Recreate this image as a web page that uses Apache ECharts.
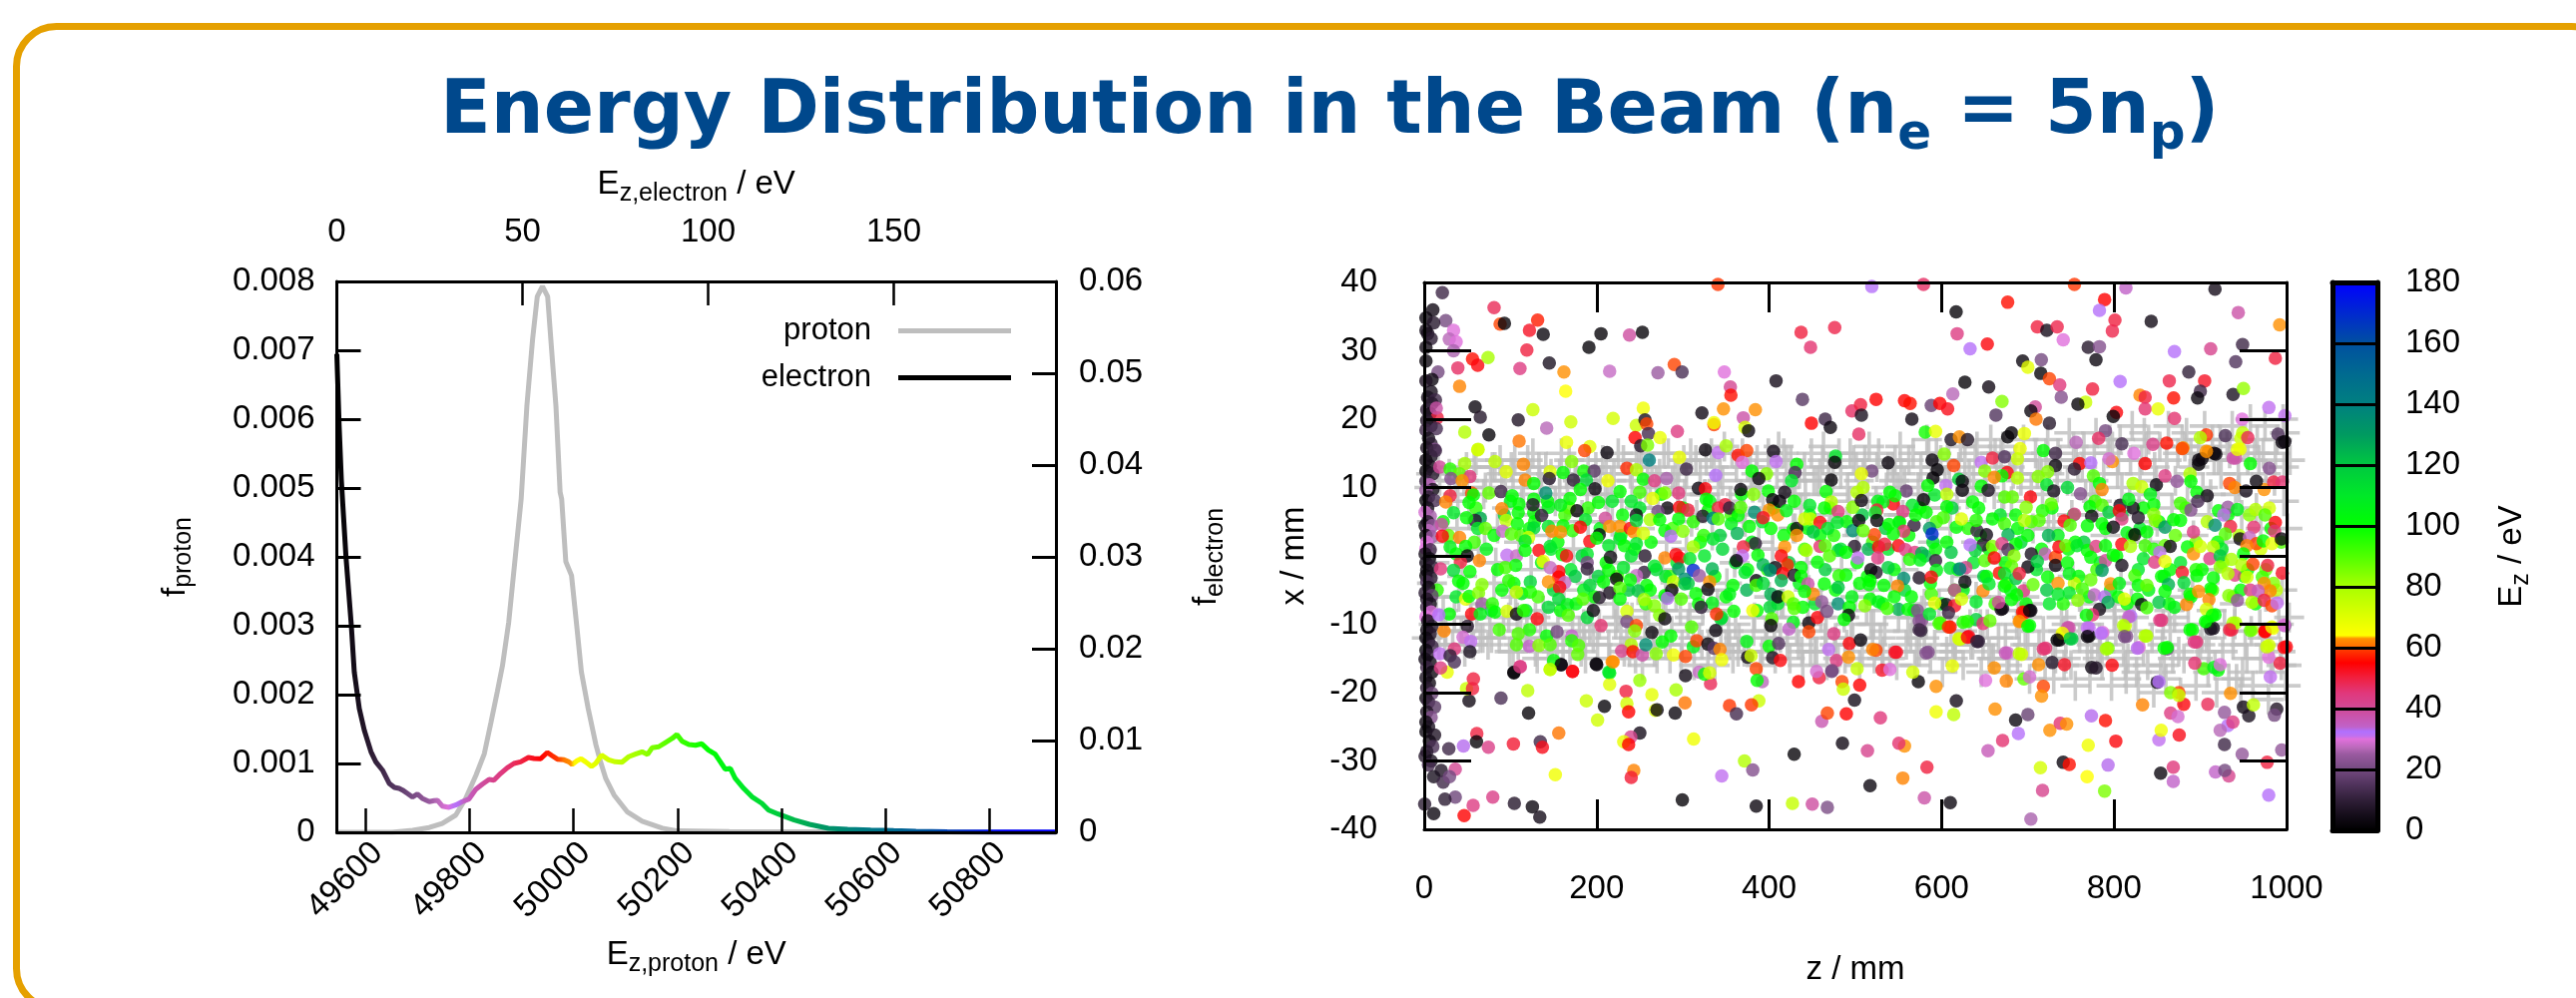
<!DOCTYPE html>
<html><head><meta charset="utf-8">
<style>html,body{margin:0;padding:0;background:#fff}#c{width:2581px;height:1000px}</style>
<script src="https://cdn.jsdelivr.net/npm/echarts@6/dist/echarts.min.js"></script>
</head><body><div id="c"></div>
<script>
const protonTicks=[49600,49800,50000,50200,50400,50600,50800];
const electronTicks=[0,50,100,150];
const protonCurve=[[49544,0],[49650,0],[49690,.00003],[49722,.00007],[49747,.00013],[49773,.00025],[49792,.00049],[49812,.00083],[49828,.00114],[49841,.0016],[49853,.00204],[49863,.00242],[49875,.00305],[49888,.00402],[49899,.00484],[49910,.00619],[49921,.00716],[49930,.00778],[49940,.00793],[49950,.00778],[49960,.00677],[49966,.00619],[49974,.00494],[49977,.00484],[49985,.00393],[49996,.00373],[50006,.003],[50015,.00233],[50028,.0018],[50043,.00127],[50052,.00102],[50062,.00078],[50078,.00054],[50103,.0003],[50132,.00016],[50171,.00006],[50200,.00002],[50300,.00001],[50929,0]];
const electronCurve=[[0,.0521],[.6,.0445],[1.2,.0385],[1.64,.0355],[2.47,.02997],[3.9,.02254],[4.7,.01745],[6.05,.01348],[7.4,.01112],[9.2,.00877],[10.5,.00768],[12.3,.00677],[14.1,.00533],[15.5,.00489],[16.8,.00478],[17.7,.0046],[19,.00424],[20.4,.00384],[21.7,.00416],[23,.0037],[24.9,.00334],[26.2,.00345],[27.1,.00348],[28.4,.00286],[30.2,.00272],[32,.00297],[33.8,.00334],[35.6,.00362],[37.4,.00467],[39.2,.00525],[41,.00576],[42.3,.00568],[44.1,.00641],[45.9,.00703],[47.7,.0075],[49.5,.00768],[51.6,.00815],[53.1,.00804],[54.9,.00801],[56.7,.0087],[58,.00834],[59.4,.00797],[61.2,.0079],[62.5,.00768],[63.4,.00739],[64.7,.00779],[65.8,.00801],[67,.00768],[68.6,.00717],[69.7,.0075],[71.3,.0084],[73.2,.0079],[75,.00768],[76.8,.00764],[78.6,.00823],[80.4,.00851],[82.2,.00877],[83.7,.00848],[84.9,.00921],[86.7,.00932],[88.5,.00978],[90.3,.01022],[91.6,.01065],[93,.00992],[94.8,.00957],[96.6,.00949],[98.3,.00964],[100.1,.00895],[101.9,.00851],[103.3,.00768],[104.6,.00688],[106,.00696],[107.3,.00587],[109.6,.00478],[111.8,.00388],[114.5,.00315],[116.3,.00242],[118.9,.00199],[123.2,.00134],[127.3,.00087],[132.4,.00043],[137.6,.00033],[143.8,.00025],[150,.00018],[156,.00012],[164.4,.00006],[176.7,.00003],[193.7,.00002]];
const colorbarStops=[[0,'#000000'],[5,'#150d1a'],[10,'#301f38'],[15,'#50335c'],[20,'#744a80'],[25,'#9a5aa0'],[27,'#b868b8'],[30,'#e070dc'],[31,'#c070f0'],[32.5,'#b070ff'],[34,'#c062c8'],[40,'#d04a98'],[45,'#e0387c'],[50,'#f02040'],[55,'#ff0000'],[60,'#ff4400'],[60.5,'#ff7000'],[63,'#ff9000'],[64,'#ffff00'],[70,'#e0ff00'],[80,'#a8ff00'],[90,'#50ff00'],[100,'#00ff00'],[110,'#00e828'],[120,'#00c840'],[130,'#009a60'],[140,'#008080'],[150,'#006a90'],[160,'#0050a0'],[170,'#0028d0'],[180,'#0000ff']];
const protonHits=[
3,-12,9,5,14,-6,18,11,24,-13,27,2,31,8,35,-9,41,12,44,-3,47,-14,52,6,55,-11,58,13,63,1,66,-7,69,9,74,-13,77,11,81,-4,85,4,88,14,92,-10,96,7,99,-14,
103,12,106,-6,110,2,113,10,117,-12,120,14,124,-2,127,6,131,-15,134,11,138,-8,141,13,145,3,148,-13,152,8,155,-10,159,15,162,-5,166,10,169,-14,
173,1,176,12,180,-11,183,6,187,-15,190,14,194,-7,197,9,201,-13,204,11,208,-3,211,13,215,-15,218,5,222,-10,225,15,229,8,232,-14,236,-1,239,12,
243,-12,246,14,250,4,253,-16,257,10,260,-8,264,13,267,-14,271,7,274,-11,278,15,281,2,285,-15,288,11,292,-6,295,13,299,-13,302,9,306,-10,309,15,
313,-16,316,6,320,12,323,-8,327,14,330,-13,334,3,337,-16,341,10,344,-11,348,16,351,-4,355,8,358,-15,362,13,365,-12,369,15,372,5,376,-14,379,11,
383,-9,386,14,390,-16,393,7,397,-12,400,13,404,1,407,-15,411,16,414,-7,418,10,421,-13,425,14,428,4,432,-11,435,12,439,-16,442,9,446,-5,449,15,
453,-14,456,11,460,-9,463,16,467,-16,470,6,474,13,477,-12,481,15,484,-2,488,-15,491,10,495,-10,498,14,502,3,505,-16,509,12,513,-8,516,16,520,-13,
524,8,527,15,531,-15,534,-11,538,13,541,-4,545,11,548,-16,552,16,555,6,559,-13,562,14,566,-9,569,-16,573,10,576,13,580,-12,583,17,587,-15,590,2,
594,15,597,-7,601,-17,604,11,608,14,611,-11,615,-14,618,8,622,16,625,-16,629,-3,632,12,636,-13,639,15,643,5,646,-17,650,10,653,-10,657,17,660,-15,
664,13,667,-6,671,16,674,-12,678,-17,681,8,685,14,688,-15,692,11,695,17,699,-9,702,-18,706,4,709,15,713,-13,716,12,720,-16,723,17,727,-2,730,-18,
734,10,737,14,741,-11,744,-15,748,18,751,6,755,-19,758,13,762,-7,765,16,769,-14,772,-18,776,11,779,18,783,-12,786,-16,790,3,793,15,797,-19,800,-9,
804,12,807,17,811,-14,814,-18,818,8,821,19,825,-11,828,-19,832,14,835,18,839,-16,842,4,846,-20,849,11,853,16,856,-13,860,-18,863,19,867,7,870,-9,
874,15,877,-20,881,-15,884,18,888,12,891,-5,895,-19,898,16,902,-12,905,19,909,-17,912,9,916,14,919,-20,923,17,926,-14,930,2,933,-18,937,19,940,-10,
944,12,947,-20,951,16,954,-15,958,20,961,-19,965,7,968,14,972,-12,975,19,979,-21,982,-17,986,11,989,17,993,-14,996,20,999,-19,1001,4,1003,-9,1004,14,
12,-1,38,4,61,-9,83,-1,108,-9,135,-12,164,5,193,-4,221,2,248,-5,276,-2,304,1,332,-5,360,-1,388,2,416,-7,444,-1,472,5,500,-6,528,1,556,-2,584,7,612,-5,640,2,668,-1,696,-6,724,4,752,-3,780,8,808,-4,836,2,864,-8,892,3,920,-2,948,6,976,-6,
20,-10,50,10,78,-12,101,13,129,-9,157,12,185,-10,213,8,241,-9,269,11,297,-8,325,9,353,-11,381,10,409,-9,437,7,465,-12,493,8,521,-10,549,10,577,-8,605,7,633,-10,661,9,689,-8,717,9,745,-10,773,9,801,-8,829,9,857,-10,885,8,913,-8,941,9,969,-10,997,8,
6,10,11,-10,16,13,22,-8,29,12,33,-13,39,9,43,-11,49,13,54,-9,60,14,65,-12,71,10,76,-10,82,13,87,-12,94,11,98,-9,105,14,109,-13,115,9,119,-11,126,15,129,-14,136,10,140,-10,147,12,150,-12,157,9,161,-13,168,14,172,-9,178,11,182,-14,189,10,192,-11,199,13,203,-10,210,9,214,-13,220,12,224,-9,231,14,235,-12,241,11,245,-15,252,13,256,-10,262,9,266,-13,273,12,277,-8,283,15,287,-11,294,10,298,-15,304,12,308,-9,315,14,319,-12,326,9,329,-15,336,13,340,-8,346,11,350,-13,357,15,361,-10,367,9,371,-14,378,13,382,-11,389,10,392,-14,399,15,403,-9,409,12,413,-12,420,14,424,-15,430,9,434,-13,441,13,445,-10,452,11,455,-14,462,14,466,-11,473,9,476,-13,483,12,487,-9,494,15,497,-12,504,11,508,-14,514,9,518,-10,525,13,529,-12,536,10,540,-15,546,14,550,-9,557,11,561,-11,567,15,571,-14,578,9,582,-10,588,12,592,-13,599,14,603,-9,609,11,613,-15,620,13,624,-11,630,9,634,-13,641,16,645,-10,651,12,655,-14,662,15,666,-12,672,9,676,-16,683,12,687,-10,693,14,697,-13,704,10,708,-15,714,14,718,-11,725,12,729,-14,735,15,739,-9,746,11,750,-16,756,14,760,-12,767,9,771,-10,777,15,781,-15,788,12,792,-13,798,16,802,-11,809,10,813,-16,819,14,823,-9,830,12,834,-14,840,17,844,-12,851,9,854,-17,861,14,865,-11,871,11,875,-14,882,16,886,-10,893,13,897,-15,903,10,907,-12,914,17,917,-16,924,12,928,-10,934,15,938,-13,945,10,949,-17,955,14,959,-11,966,17,970,-15,976,12,980,-13,987,15,991,-10,997,13,1000,-16,
9,-4,40,-6,70,4,100,-5,132,7,160,-7,190,5,220,-7,250,7,280,-6,310,5,340,-7,370,6,400,-6,430,4,460,-7,490,5,520,-5,550,6,580,-7,610,4,640,-6,670,6,700,-7,730,5,760,-6,790,6,820,-7,850,5,880,-6,910,6,940,-7,970,4,995,-5,
8,12,25,-11,46,11,68,-12,90,12,112,-11,133,13,154,-14,175,12,196,-12,217,11,238,-14,259,12,280,-13,301,14,322,-13,343,12,364,-14,385,12,406,-13,427,11,448,-14,469,13,490,-13,511,14,532,-14,553,12,574,-14,595,13,616,-13,637,11,658,-15,679,13,700,-13,721,15,742,-16,763,13,784,-14,805,14,826,-17,847,13,868,-15,889,15,910,-14,931,16,952,-13,973,15,994,-16,
17,-13,36,11,57,-13,79,13,103,-14,122,12,144,-15,165,12,186,-13,207,14,228,-11,249,15,270,-15,291,12,312,-12,333,15,354,-13,375,13,396,-11,417,15,438,-14,459,12,480,-15,501,13,522,-15,543,13,564,-12,585,15,606,-14,627,14,648,-13,669,15,690,-11,711,12,732,-15,753,16,774,-13,795,17,816,-15,837,16,858,-16,879,17,900,-13,921,14,942,-18,963,15,984,-15,998,18];
const electronCore=[
22,5,100,37,-6,110,60,7,95,72,1,105,85,-2,100,93,6,115,104,-4,100,112,3,90,118,-8,110,128,5,100,136,-1,105,143,8,100,150,-5,115,155,2,100,163,6,92,170,-2,110,176,-7,100,183,0,120,190,7,95,197,-6,100,204,4,105,211,-1,100,218,8,110,224,-3,92,230,6,100,237,-5,120,244,1,100,250,7,110,257,-7,95,263,2,100,269,-2,115,275,9,100,281,-6,105,288,4,92,293,-1,110,300,7,100,306,-4,120,312,5,95,318,-7,100,325,0,110,331,8,105,337,-3,100,343,3,118,350,-6,100,356,6,92,361,-1,110,368,9,100,374,-5,125,380,2,105,386,-8,100,392,5,110,398,-2,95,405,7,100,411,-6,115,417,3,100,423,-1,120,429,8,100,435,-4,105,441,1,92,447,6,100,453,-7,110,459,3,100,465,-2,118,471,7,95,477,-5,100,483,1,112,490,5,100,496,-6,105,502,-1,100,508,6,120,514,-3,100,520,2,92,526,8,105,532,-7,100,538,1,110,545,-2,100,551,5,96,557,-5,115,562,3,100,568,-8,105,575,7,100,581,0,120,587,-4,100,594,5,92,600,-7,110,606,2,100,612,7,118,619,-2,100,625,-5,105,631,4,96,637,-1,110,643,7,100,649,-3,120,655,1,100,662,-7,92,668,6,110,674,-1,100,680,-5,105,686,6,100,692,2,115,698,-7,100,704,5,90,710,-2,110,716,1,100,722,-5,120,728,7,100,735,3,105,741,-7,96,747,1,100,753,6,110,759,-3,100,765,2,118,771,-6,100,778,8,92,784,-1,110,790,4,100,796,-5,105,803,0,100,809,6,120,815,-7,100,821,3,90,828,-2,110,834,7,100,840,-5,105,846,1,96,852,5,100,858,-3,115,864,-7,100,871,3,88,877,-1,110,883,7,92,889,-6,100,895,2,84,902,-2,100,908,5,78,914,-5,92,920,2,100,926,-1,84,932,6,100,938,-6,90,945,3,78,951,-3,100,957,6,84,964,-7,100,970,1,72,976,-2,88,982,4,100,988,-5,76,994,2,90,
15,-5,95,28,3,88,45,-4,100,58,2,92,78,-8,115,90,-5,100,100,8,105,122,4,100,132,-6,92,147,1,110,158,-8,100,168,7,90,185,-5,105,202,-3,118,228,3,100,262,-5,100,285,-3,92,320,2,100,345,-9,110,375,-2,100,410,-7,110,445,4,100,475,3,96,505,-4,100,535,4,118,565,-6,100,590,2,110,615,-5,100,645,3,100,675,-4,92,700,3,100,725,-7,110,755,2,100,780,-2,92,805,-6,100,830,4,110,865,-2,100,895,-2,96,925,1,110,955,-2,100,985,-4,84];
const electronDots=[
21,38.5,12,10,36,4,25,34.4,20,2,34.8,3,11,34.1,8,4,32.5,7,2,33,5,8,31.8,9,2,30.5,4,2,28.5,3,16,26.9,20,9,25.8,3,2,25.6,7,8,24,5,4,23.2,6,13,22.8,12,9,22.3,8,3,21.4,10,7,20.8,4,15,20.2,50,14,21.6,38,3,19.8,8,8,19,6,2,18.4,12,14,18.6,14,5,17.2,5,8,16.4,9,12,15.6,22,3,15.8,7,8,14.6,6,13,15.4,12,2,14,4,7,13.1,5,2,12.4,3,10,12,8,2,10.9,12,6,10.4,28,10,9.7,4,2,9.6,24,5,8.6,9,2,8.1,3,12,8.1,14,4,7,6,1,6.4,29,7,5.8,26,4,5,8,1,4.4,5,9,4.4,24,5,3.7,28,2,3,2,9,2.8,25,3,2,30,2,1.1,30,7,0.9,12,1,0.3,5,6,-0.4,3,2,-1,6,9,-1.6,10,3,-2.1,4,2,-2.9,3,8,-3.2,8,3,-3.8,14,5,-4.6,4,1,-5.4,9,9,-5.8,18,3,-6.3,7,7,-7,5,3,-7.5,12,8,-8.2,30,2,-8.9,30,4,-9.5,5,9,-10.3,8,3,-10.8,4,7,-11.4,8,2,-12,3,5,-12.6,6,9,-13.2,12,2,-13.8,3,4,-14.5,10,1,-15.1,5,7,-15.6,4,3,-16.3,12,9,-17,3,2,-17.8,6,6,-18.6,4,3,-19.3,9,9,-20.1,18,2,-20.8,4,5,-21.4,11,12,-22.1,16,3,-22.8,7,8,-23.6,22,2,-24.3,4,5,-25,6,2,-25.7,3,12,-26.2,7,6,-27.1,4,10,-27.9,14,3,-28.6,9,1,-29.3,8,8,-30,6,5,-30.6,13,19.7,-31.4,7,11,-32.3,6,22,-33.1,12,
81,36.3,48,88,33.9,60,93,34,2,131.5,34.5,57,122,33,52,138,32.4,3,34,33,30,29,31.7,27,37,31.3,30,34,30,26,56,28.8,56,62,27.9,54,74,29,80,39,27.5,47,119,30.1,50,111,27.4,44,145,28.2,6,162,26.9,63,41,24.8,62,164,24.1,64,191,30.5,2,205,32.5,2,238,32.3,39,253,32.7,2,215,27,28,271,26.8,25,290,28,60,299,26.9,14,340.6,39.7,59,348,26.9,30,355,24.7,41,355.6,23.5,56,408,25.6,5,437,32.7,50,448,30.5,46,476,33.4,49,519,39.4,32,438.6,22.9,16,496,21.2,47,506,22.1,50,507,20.6,6,524,22.9,55,504,17.8,47,449,19.4,55,465,20,12,471,18.8,3,384,21.4,63,347,21.5,63,370,20.2,38,336,19.2,60,336,19.5,67,372,18.8,72,376,18.3,3,322,20.9,4,293.5,18.2,44,254,21.6,67,246,19.1,74,256,19.9,6,258,19.3,60,260,17.9,13,244.5,17.3,55,273.5,17.3,68,251,16.1,8,259,16.2,85,219,20.1,72,170,19.6,73,126,21.4,74,142,18.7,27,109,19.9,7,59,21.8,3,65,20.3,8,75,17.7,2,47,18.1,78,110,16.8,61,62.5,15.6,75,165,16.6,68,192,16,70,
579,39.7,47,754,39.7,59,813.7,39.2,34,917,39,5,676.6,37.1,56,616.8,35.7,2,789,37.5,55,783,35.9,32,801,34.5,50,798,32.9,49,843,34.3,4,944,35.6,38,992,33.8,63,618,32.5,44,633,30.3,32,653,31,54,711,33.5,50,722,33,5,734,33.5,49,741,31.6,30,770,30.5,8,783,30.6,22,779,28.7,3,694,28.5,3,700,27.6,69,715.6,28.7,20,715,26.7,2,870,29.9,32,912,30.3,42,949,30.9,12,941,28.4,15,987,28.9,50,627,25.4,2,654.6,24.7,4,725,25.9,60,737,25,45,775,24.4,50,807,25.5,32,864,25.6,49,886.6,26.9,10,905,25.6,52,900,24.1,12,896.8,23.1,3,830,23.5,62,836,23.2,50,869,23.1,56,938,23.6,6,950,24.5,82,979.5,21.7,31,998,20.5,31,948.5,20,30,613,23.7,27,557,22.7,55,563.5,22.3,56,588,22,18,598,22.3,55,607,21.5,53,565.5,20,4,670,22.6,84,663,20.6,15,708.6,21.8,40,703.5,21.2,3,709.5,20,61,725,19.4,8,738.7,23.2,22,767,22.5,74,758,22.2,2,802.7,21,54,799,20.4,2,836,21.5,46,851,21.5,68,870,20.1,46,907,17.7,59,900,17.3,78,929,17.6,14,949,18,76,947,17.2,74,955,17.3,48,990,17.8,15,998,16.7,3,946,15.6,67,941,14.3,38,909,15.2,63,918,14.9,3,902,14.2,3,898,13.4,2,861,16.5,56,880,15.8,63,845,16.3,43,809,16.4,14,790,18.3,20,782,17.2,47,756,16.6,27,611,17,6,620.6,17.4,63,630,17,7,581,18.1,98,593,18.2,68,676.6,17.4,2,681,18,2,696,17.9,68,
111.5,-16.2,42,104,-17.1,2,158.5,-15.9,3,146,-16.6,74,172,-16.9,52,199.4,-15.8,2,218,-15.5,63,215,-17.1,105,215,-18.8,70,250,-18.2,82,234,-19.8,50,264,-20.3,69,292,-19.6,80,303,-17.5,4,332,-18.7,48,319,-17,28,325,-17.3,100,331,-17.1,72,385,-16.5,60,392,-18.4,27,386,-18.2,100,388,-21.2,74,379.5,-21.8,59,354,-21.9,59,362,-23.1,13,302.4,-21.5,61,291,-23,3,268,-22.6,70,270,-22.5,3,235,-21.6,72,237,-22.8,55,209,-22,2,188,-21.2,74,201,-24,73,121,-23,2,120,-19.7,76,89,-20.8,14,52,-21.2,4,49,-19.4,74,56,-19.4,50,57,-18,50,26.6,-17,68,19,-16.4,44,61,-26,50,60.6,-27.2,2,45.5,-27.8,33,28.5,-28.2,12,74.4,-28,43,103.4,-27.5,51,134.6,-27.2,12,137,-28,53,156,-25.9,61,152,-32,67,36,-31.2,41,29.3,-32.3,20,36,-35.3,19,24,-35.6,9,0.5,-36.3,9,11,-37.7,3,56.7,-36.5,44,79.5,-35.3,43,46.3,-38,55,104.5,-36.2,8,125.4,-36.7,3,134,-38.2,5,299.3,-35.7,2,385,-36.6,3,427,-36.2,75,450,-36.3,39,467.5,-36.8,21,517,-33.6,3,345,-32.2,31,371.4,-30,78,381,-31.3,22,429,-29,2,485,-27.4,4,514,-28.5,42,461,-24.2,37,467.5,-23,60,489.5,-23.1,55,499,-21.1,5,484.5,-18.4,60,486,-19.5,74,505,-18.9,55,434,-18.4,55,458,-17.8,50,455,-16.9,29,472.5,-16.9,20,502,-16.5,75,312.4,-26.8,67,250,-25.9,5,239.5,-26.5,42,231.4,-27.2,68,237,-27.6,55,243,-31.4,62,240,-32.4,51,
610,-36.1,3,703.5,-38.5,26,580,-35.4,38,555,-32.5,62,583,-30.9,50,557,-27.8,63,550.4,-27.4,46,529,-23.7,45,593.6,-22.8,67,614,-23.2,76,617,-21.2,5,593.6,-19.1,63,573,-18.4,2,566.6,-17,72,531,-16.7,52,540,-16.6,30,612.5,-16.1,68,661,-16.4,63,651,-18.2,30,675,-18.3,62,662,-22.4,63,685.8,-24,3,700,-23.2,18,689,-26,32,670.7,-27,46,653.8,-28.5,36,725.5,-25.5,63,737.5,-24.5,46,745,-24.6,63,718,-19.1,60,715.9,-20.5,63,695.5,-18,88,702,-17.7,29,712.5,-15.9,63,728.2,-15.6,8,742.5,-15.9,52,773.7,-23.4,33,790,-24.1,56,802,-27.1,54,770,-27.7,67,741,-30.2,3,748,-30.5,56,714.6,-31,72,793,-30.6,33,768.7,-32.3,64,717,-34.3,42,789,-34.4,85,833,-21.8,62,852,-26.9,31,854.6,-25.5,67,875.5,-26.2,53,854,-31.8,3,868.6,-30.9,45,868.6,-33,34,865.6,-23,44,874,-23.5,29,880.8,-21.7,54,875,-20,60,865.6,-20,84,875,-20.4,74,850,-18.5,6,852,-18.4,32,908.7,-21.7,48,935,-20.1,63,928,-22.9,24,950,-22.1,4,956.2,-23.4,6,961.6,-21.8,76,988.6,-22.4,7,985.9,-23.3,20,932,-24.8,32,937.7,-24.3,44,923,-25.5,27,928,-27.6,12,948.5,-29,24,994.4,-28.4,24,977.5,-30.2,50,917.6,-31.6,34,933,-32.2,42,928.4,-31.4,20,979.3,-35,32,981.2,-17.7,31,992.5,-15.7,50,979.3,-14.8,30,979.7,-13.1,72,999.7,-13.3,54,904,-16.5,92,920.7,-16.7,100,915.7,-16.3,105,923,-15.9,30,893.6,-15.7,46,861.6,-13.6,20,861.6,-13.4,100,895.6,-12.6,46,828.9,-13.4,30,793,-13.5,85,837.8,-11.7,78,814.6,-11.8,22,813,-10.2,74,819.2,-8.8,32,855,-9.4,46,786.9,-11.2,30,771,-10.5,31,771,-11.7,2,736.7,-12.3,2,751,-12.1,120,742,-11.3,68,747.8,-10.5,38,720.5,-13.5,46,692.7,-14.4,72,676.5,-14.2,29,797.7,-16,54,774,-16.3,4,779,-16.4,8,642.6,-12.5,10,631.4,-11.8,52,621.4,-12.2,74,584.4,-14.1,22,547.7,-14.1,52,524,-13.8,60,576,-10.9,10,577,-9.4,24,598.6,-9.8,90,609.8,-10.4,56,625,-9.7,95,695.8,-8.3,54,703.5,-8,3,691,-9.5,63,702,-10.2,100,670.7,-7.7,6,890.8,-10.8,100,915,-10.6,5,936.4,-10.8,50,908,-9.7,100,917,-8.6,100,941,-9.8,78,960,-10.8,78,975,-11,55,984,-10.6,67,998,-10.2,24,
62,15.5,72,186,15.4,60,212,15.1,3,261,14,140,296,14.4,68,326,15.5,3,341,15.1,31,350,16.1,80,364,14.7,56,374,15.4,60,369,13.7,30,405,15.3,5,408,13.8,31,432,13.4,100,430,12.2,14,426,11,110,477,14.6,110,476,13.7,2,472,11.1,2,18,13,40,30,12.7,95,47,13.5,80,82,13.8,76,115,13.4,62,95,12.3,70,41,12,88,53,11.6,45,31,11.3,22,44,11,63,146,12.3,70,145,11.3,8,161,12.2,100,171,13.8,84,185,12.4,98,197,12.4,16,188,11.1,115,173,11.1,9,117,11.1,62,127,10.6,100,235,12.8,58,246,12.6,78,304,12.7,12,338,11.8,32,254,11.2,100,267,11,44,281,11.3,26,213,11,67,380,12.4,100,397,12,84,388,11.3,3,198,9.8,3,181,9.7,100,227,9.4,100,250,9.3,92,279,9.2,84,295,9.2,45,318,9.9,3,326,9.8,54,367,9.7,3,382,9,84,399,9.5,100,418,9.3,5,75,9.2,88,89,9.4,12,55,9.2,60,30,8.8,50,25,7.9,62,141,9.2,135,102,8.8,100,127,8.3,100,169,8.4,100,265,8.4,68,240,8,110,202,7.8,100,57,8.9,100,52,7.8,100,404,8.2,2,412,8,3,466,9.4,100,472,7.9,78,447,7.4,110,464,7,100,480,6.5,45,497,7.1,84,
34,6.3,110,90,6.9,62,110,7.6,100,109,6.3,100,127,6.3,100,144,7.1,105,126,7.5,8,158,7.4,105,136,5.9,10,177,6.6,2,282,7,3,271,6.5,20,296,7.1,54,306,6.7,50,246,6,4,327,8.3,100,329,6.6,100,341,7,50,349,7.5,50,354,7,10,364,5.9,100,367,7.1,90,383,6.4,135,400,6.7,63,410,6,63,393,5.6,52,420,6.6,105,65,5.5,125,59,5.2,8,49,5.6,100,95,5.2,76,108,4.7,100,127,4.1,115,144,4.3,110,161,4.4,100,172,3.7,95,187,5.3,110,210,5.5,40,215,4.3,63,227,4.3,63,239,4,54,243,3.5,63,254,3.3,72,246,5.2,115,262,5.3,80,273,5.3,100,295,5.4,100,323,5.8,8,335,5.5,140,341,5.4,90,356,4.7,105,363,3.3,125,377,4.3,100,402,4,100,428,3.9,100,432,4,4,441,5.4,72,448,5.4,74,459,4.9,54,451,3.5,120,468,4,110,479,4.9,110,497,3.7,135,
20,4.6,38,21,2.9,54,41,2.7,62,62,4,110,71,4,88,81,3,100,91,3.6,28,101,3.2,90,121,2.7,72,117,2.2,110,148,3.6,62,158,3.5,63,192,2.1,54,181,4.2,55,203,3.1,3,200,2.6,100,214,1.5,110,227,2.5,110,232,1.5,100,246,1.8,110,279,3.7,100,286,2.9,33,300,3.6,84,312,1.3,80,324,3,95,335,2.5,110,346,1,115,384,1.8,10,370,1.3,50,418,1.3,63,432,3,63,443,.8,80,459,1.4,46,456,-.9,100,480,.8,115,465,1.5,90,499,1.4,8,48,1.4,100,30,1.3,105,37,.3,100,50,0,3,42,-.9,50,64,-.7,62,96,.1,31,107,0,28,133,.8,54,146,1.4,110,117,.8,100,138,-.8,67,160,.2,100,165,0,54,189,.3,110,216,-.2,4,256,0,8,240,0,110,279,-.3,62,292,.2,54,296,-.3,54,308,-.4,110,369,0,31,362,-.7,3,387,.1,100,393,-1.3,125,414,0,54,421,-1.3,58,407,-1.7,3,437,-1.7,100,470,0,90,489,.5,100,
34,-2.1,115,19,-1.9,45,53,-2.3,100,106,-1.4,100,94,-1.7,92,156,-2.3,54,146,-1.7,28,189,-1,20,189,-1.9,10,175,-3,120,214,-2.1,100,231,-1.7,110,255,-2.4,10,246,-2.9,28,267,-1.5,110,295,-1.9,130,312,-2.1,170,302,-3.4,135,319,-2.9,25,334,-1.9,125,372,-2.4,110,401,-2.1,135,416,-2.6,54,429,-2.8,6,437,-3,100,414,-3.6,125,489,-2.8,100,481,-2.9,95,40,-3.7,100,156,-3.1,55,144,-3.8,63,163,-3.9,28,157,-4.6,54,123,-3.8,115,98,-3.6,95,67,-4.2,84,239,-3.5,100,223,-3.4,2,192,-4.3,115,208,-3.8,100,258,-4.3,100,280,-3,110,289,-3.8,74,302,-4.1,120,331,-3.8,63,358,-4.3,100,385,-3.6,2,385,-4.3,92,393,-4,115,445,-4.1,38,464,-4.1,100,480,-4.6,120,
48,-6.3,68,52,-5.9,100,63,-5.4,84,67,-7,25,79,-7,95,113,-5.5,105,123,-5.3,96,107,-5.3,76,156,-6.3,115,166,-7.1,105,184,-6.3,90,215,-5.4,6,203,-6.1,8,227,-4.7,90,227,-6.3,100,248,-5.1,120,279,-5.8,100,255,-6.4,80,267,-7.3,84,287,-5,3,282,-6.2,33,298,-6.3,90,315,-5.5,100,329,-4.9,3,334,-6.9,105,321,-7.5,10,354,-5.6,105,402,-5.6,125,410,-6,4,422,-6,74,451,-5.6,62,461,-6.7,24,441,-5.2,100,428,-7,90,439,-7.5,100,401,-7.5,115,480,-7,135,493,-7.5,100,
29,-8.5,100,17,-8.6,32,55,-8.5,54,65,-8.5,105,82,-8.2,100,96,-8.1,72,107,-8.5,3,115,-8,95,144,-7.5,115,131,-9.2,54,167,-8.7,90,189,-9,115,196,-8,3,235,-8.1,72,235,-9.6,20,273,-8.7,84,279,-9.2,3,344,-9.2,115,339,-8.5,58,359,-8.1,100,381,-8,67,403,-9.2,90,402,-10.2,2,429,-7.7,90,428,-9.7,105,446,-9.8,3,456,-9,54,467,-8.1,20,492,-8.7,3,487,-9.3,100,23,-11,62,50,-10.3,8,45,-11.9,29,54,-12.5,31,87,-10.8,92,122,-10.8,96,109,-11.4,90,142,-11.7,100,154,-11.1,20,171,-11.7,34,171,-12.4,96,205,-10.2,46,246,-10.2,60,244,-11,84,264,-11.2,3,310,-10.4,90,286,-11.7,100,276,-12.6,100,338,-10.9,3,374,-12.5,105,423,-10.7,34,446,-11.1,60,475,-11.4,44,
35,-13.6,45,53,-14,6,18,-14.3,31,30,-14.6,10,35,-15.5,14,107,-13,90,122,-13.2,34,133,-13.1,84,146,-13,90,179,-13.1,90,240,-13,78,229,-13.9,42,242,-14,56,253,-14.5,38,257,-13,135,269,-14.3,84,312,-13.3,105,316,-12.4,60,329,-12.9,3,336,-13.5,16,343,-13.7,62,345,-15.2,67,289,-14.5,67,303,-14.7,60,400,-13.2,100,411,-12.8,16,375,-14.8,4,379,-14.6,74,404,-14.9,6,413,-15.3,54,469,-13.7,31,478,-15.3,44,493,-12.8,54,492,-14.8,63,473,-16.8,20,150,-15.3,100,159,-15.9,3,146,-16.6,76,172,-16.9,54,214,-17,110,219,-15.5,63,200,-15.9,3,104,-17,2,111,-16.2,44,178,-14.4,88,
538,13.6,3,519,12.4,20,507,12,68,589,14,3,595,12.6,2,590,11.4,2,603,14.9,84,614,13.2,60,646,13.7,31,659,14.3,50,673,14.5,15,691,15.7,68,688,14.2,74,718,15.4,100,732,15,12,732,13.2,3,760,13.5,55,773,13.6,32,754,12.7,9,798,13.8,63,794,14.2,29,823,15,30,836,13.5,55,898,14,3,916,15,3,907,15.3,63,938,14.3,38,958,13.5,100,980,12.8,22,879,15.7,60,943,15.6,68,650,12.4,84,676,12.2,54,670,11.7,100,661,11.5,62,688,11.4,78,712,11.6,84,723,12.3,84,722,10.4,110,730,9.5,6,746,10,115,776,11.7,90,783,10.6,100,786,9.7,62,761,9.1,22,822,10.6,80,832,10.1,74,849,10.4,3,859,11.7,44,873,10.9,24,888,12,78,889,10.9,100,896,9.3,100,908,8.8,4,934,10.6,60,940,10,62,953,9.5,6,974,9.7,63,985,10.8,50,965,10.9,3,995,10.8,46,995,16.6,3,620,11.2,115,624,10.9,3,624,9.6,3,605,10.3,31,592,8.9,110,606,9,76,584,10.3,100,646,10.2,100,654,9.6,7,559,9.5,18,540,9.3,100,579,8.2,2,509,10,78,502,9.3,78,507,8.1,4,
544,7.6,54,532,7.9,105,546,8.8,100,566,7.4,110,555,6.5,44,525,6.7,50,606,7.2,100,636,7.9,100,582,6.4,100,523,6.3,110,673,8.6,90,682,8.6,88,703,8.6,54,698,7.1,84,727,7.6,88,717,6.6,96,772,7.2,100,786,7.4,90,794,6.4,118,807,7.4,6,806,6.6,54,822,7,3,817,8.3,105,774,5.8,4,828,5.6,8,809,5.4,44,754,6.1,44,842,9,105,846,7.5,100,846,6.1,84,848,5.2,84,877,7.7,92,889,6.7,22,897,8,14,921,6.6,100,932,7.1,25,927,6,31,943,6.8,105,964,6.8,78,980,7,72,975,6,90,
504,5.2,3,525,5.2,2,539,4.6,100,551,4.9,105,568,4.5,10,556,3.6,46,522,3.1,60,509,3.7,88,544,3.2,100,570,6,100,586,4,130,589,3.2,170,602,5.6,92,617,4.2,100,623,5.4,70,641,3.7,12,652,3.1,5,640,5.2,96,659,5.4,100,673,4.7,92,688,4,100,696,5.2,78,677,3.1,125,713,5.2,90,742,5.1,54,724,3,125,749,4.5,90,769,4.4,100,786,4.7,100,799,4.2,3,815,3.4,105,824,3.1,2,838,3.5,100,859,4.2,130,869,5.3,100,877,5.2,100,892,3.5,44,917,4.5,135,935,4.3,50,962,4.2,46,987,4.9,54,986,3.6,46,929,3.2,90,
515,1,125,527,1.3,54,534,1.7,50,550,1.5,54,558,.9,44,526,-.3,44,503,-.3,31,569,.5,44,593,1,100,593,-.7,10,577,.4,125,611,.5,120,648,1.6,9,659,1.4,84,670,1.8,44,686,1.7,100,677,.9,14,684,0,84,639,.8,115,633,1.6,32,704,.3,6,720,.3,36,732,-.2,60,736,1.3,54,744,1.5,88,769,.8,100,757,1.5,110,779,1.4,44,790,1.5,100,809,1.7,54,819,1.4,80,836,1.5,92,859,1.5,88,865,1.4,3,853,.5,31,885,1.3,100,892,.3,63,900,1.4,72,915,1.3,76,946,2.5,4,911,-.4,44,957,2.7,28,965,1.8,60,954,1.5,62,973,2.2,100,983,1.8,68,994,2.5,3,950,.3,100,
538,-1.7,118,524,-2.4,8,563,-.5,96,575,-.6,105,594,-2.1,105,610,-1.8,110,628,-1.7,42,621,-1.9,140,650,-.7,90,661,-.3,55,667,-2.5,56,681,-1.5,88,700,-1.6,3,711,-.8,118,732,-1.4,3,746,-1,100,773,-.2,100,790,-.7,40,809,-1.4,6,799,.1,100,834,-.4,110,847,-.9,44,859,-.8,68,879,-2.4,52,923,0,120,923,-1.6,84,936,-.5,80,940,-2.8,44,948,-1.3,78,961,-1.2,60,978,-1.4,50,995,-2.5,52,518,-2,3,517,-3.6,100,556,-3.3,135,574,-3.2,7,588,-3.1,54,549,-4.4,62,533,-4.3,100,516,-4.2,100,627,-3.8,3,648,-5.1,62,615,-5,40,652,-3,100,655,-4.1,110,673,-2.6,110,686,-3.3,120,673,-4.4,100,690,-2.6,50,695,-5.1,44,706,-4.2,88,723,-3.1,100,735,-4,63,754,-4,74,748,-2.6,105,773,-3.5,88,763,-4.8,92,786,-2.1,130,796,-4.1,63,806,-4,105,824,-2.9,92,828,-4.3,100,838,-4.3,88,855,-3,100,863,-4.2,125,859,-5.2,100,881,-3.9,115,896,-2.9,100,915,-3.2,100,912,-4.8,100,932,-2.6,78,954,-3.1,72,972,-3.1,92,974,-4,63,981,-5.1,62,947,-5,100,958,-5,44,967,-5.1,36,
517,-6.3,100,527,-6.7,105,511,-7.3,84,545,-6,100,550,-7.8,125,537,-7.7,92,561,-7.8,100,605,-7.1,4,615,-7.3,52,623,-6.3,72,640,-6.7,110,588,-5.6,92,592,-6.9,68,669,-7.8,3,666,-6.8,40,681,-6.4,100,687,-5.7,100,735,-5.6,110,748,-5.4,110,758,-6.5,84,777,-5.7,34,789,-6,33,793,-6.8,125,812,-6.3,68,827,-6.3,100,832,-7.1,4,838,-7.6,92,852,-6.8,120,870,-7.5,105,884,-7.1,62,888,-5.6,100,898,-5.2,63,910,-6.4,62,933,-5.8,84,943,-6.5,24,960,-6.8,78,974,-6.5,50,983,-7.3,60,989,-6.9,31,907,-7.8,72,914,-8.7,100,783,-7.8,4,775,-8.6,46,768,-8.7,100,572,-8,22,574,-9.5,22,586,-8.5,110,608,-8.3,12,597,-9.9,92,608,-10.4,58,574,-10.8,12,694,-8.2,56,702,-8,3,690,-9.6,63,700,-10.3,100,640,-9.3,118,648,-9.9,46,630,-9.6,96,656,-9.5,88,817,-8.9,34,853,-9.4,44,811,-10.2,78,746,-10.5,38,740,-11.3,67,749,-12.1,120,734,-12.3,2,769,-10.5,31,769,-11.8,3,785,-11.3,32,812,-11.8,20,836,-11.7,78,888,-10.8,100,912,-10.7,6,906,-9.6,100,938,-9.8,80,934,-10.8,50,958,-10.9,88,975,-11.1,55,983,-10.4,68,997,-10.1,30,893,-12.6,44,506,-12.3,3,520,-13.7,62,546,-14.1,52,582,-14.2,22,620,-12.1,72,630,-11.9,54,641,-12.5,10,674,-14.2,36,690,-14.3,76,718,-13.6,46,791,-13.6,80,827,-13.5,33,858,-13.5,100,977,-13.3,74,997,-13.4,54];

const FONT='"Liberation Sans",Arial,sans-serif';
const TXT={color:'#000',fontFamily:FONT,fontSize:33};
function colorAt(v){
  for(let i=1;i<colorbarStops.length;i++){
    const a=colorbarStops[i-1],b=colorbarStops[i];
    if(v<=b[0]) return echarts.color.lerp((v-a[0])/(b[0]-a[0]),[a[1],b[1]]);
  }
  return colorbarStops[colorbarStops.length-1][1];
}
const ramp=[];for(let v=0;v<=180;v++)ramp.push(colorAt(v));
function chunk(a,n){const o=[];for(let i=0;i<a.length;i+=n)o.push(a.slice(i,i+n));return o;}
const rich=()=>({a:{fontFamily:FONT,fontSize:33,color:'#000',lineHeight:44},b:{fontFamily:FONT,fontSize:25,color:'#000',lineHeight:26,padding:[18,0,0,0]}});
const plain=v=>String(v);
function ax(extra){
  return Object.assign({type:'value',splitLine:{show:false},z:5,
    axisLine:{show:true,onZero:false,lineStyle:{color:'#000',width:3}},
    axisTick:{show:true,inside:true,length:24,lineStyle:{color:'#000',width:3}},
    axisLabel:{show:false,color:'#000',fontFamily:FONT,fontSize:33,formatter:plain}},extra);
}
const chart=echarts.init(document.getElementById('c'),null,{renderer:'canvas'});
chart.setOption({
  animation:false,backgroundColor:'#fff',
  graphic:[{type:'rect',z:-1,shape:{x:16.5,y:26.5,width:2600,height:984,r:40},style:{fill:'none',stroke:'#e5a000',lineWidth:7}}],
  title:{left:441,top:69,padding:0,
    text:'{a|Energy Distribution in the Beam (n}{b|e}{a| = 5n}{b|p}{a|)}',
    textStyle:{rich:{a:{fontFamily:'"DejaVu Sans"',fontWeight:'bold',fontSize:74.3,color:'#00488c',lineHeight:90},
      b:{fontFamily:'"DejaVu Sans"',fontWeight:'bold',fontSize:50,color:'#00488c',lineHeight:60,padding:[44,0,0,0]}}}},
  legend:{right:1563,top:311,orient:'vertical',align:'right',icon:'rect',itemWidth:113,itemHeight:5,itemGap:16,selectedMode:false,
    textStyle:{color:'#000',fontFamily:FONT,fontSize:31,padding:[0,22,0,0]},
    data:[{name:'proton',itemStyle:{color:'#bebebe'}},{name:'electron',itemStyle:{color:'#000'}}]},
  grid:[{left:337.5,right:1523,top:282,bottom:166,outerBoundsMode:'none'},{left:1427,right:290,top:283,bottom:169,outerBoundsMode:'none'},{left:2337,right:199,top:283,bottom:168,outerBoundsMode:'none'}],
  xAxis:[
    ax({gridIndex:0,position:'bottom',min:49544,max:50929,
      axisTick:{show:true,inside:true,length:24,customValues:protonTicks,lineStyle:{color:'#000',width:2.5}},
      axisLabel:{show:true,color:'#000',fontFamily:FONT,fontSize:33,rotate:45,margin:4,verticalAlign:'top',customValues:protonTicks,formatter:plain},
      name:'{a|E}{b|z,proton}{a| / eV}',nameLocation:'middle',nameGap:101,nameTextStyle:{rich:rich()}}),
    ax({gridIndex:0,position:'top',min:0,max:193.7,
      axisTick:{show:true,inside:true,length:24,customValues:electronTicks,lineStyle:{color:'#000',width:2.5}},
      axisLabel:{show:true,color:'#000',fontFamily:FONT,fontSize:33,margin:33,customValues:electronTicks,formatter:plain},
      name:'{a|E}{b|z,electron}{a| / eV}',nameLocation:'middle',nameGap:75,nameTextStyle:{rich:rich()}}),
    ax({gridIndex:1,position:'bottom',min:0,max:1000,interval:200,axisTick:{show:true,inside:true,length:30,lineStyle:{color:'#000',width:3}},
      axisLabel:{show:true,color:'#000',fontFamily:FONT,fontSize:33,margin:43,formatter:plain},
      name:'z / mm',nameLocation:'middle',nameGap:124,nameTextStyle:TXT}),
    ax({gridIndex:1,position:'top',min:0,max:1000,interval:200,axisTick:{show:true,inside:true,length:30,lineStyle:{color:'#000',width:3}}}),
    {gridIndex:2,type:'category',position:'bottom',data:[''],z:5,axisLine:{show:true,onZero:false,lineStyle:{color:'#000',width:5}},axisTick:{show:false},axisLabel:{show:false}},
    {gridIndex:2,type:'category',position:'top',data:[''],z:5,axisLine:{show:true,onZero:false,lineStyle:{color:'#000',width:5}},axisTick:{show:false},axisLabel:{show:false}}
  ],
  yAxis:[
    ax({gridIndex:0,position:'left',min:0,max:.008,interval:.001,
      axisLabel:{show:true,color:'#000',fontFamily:FONT,fontSize:33,margin:22},
      name:'{a|f}{b|proton}',nameLocation:'middle',nameRotate:90,nameGap:140,nameTextStyle:{rich:rich()}}),
    ax({gridIndex:0,position:'right',min:0,max:.06,interval:.01,
      axisLabel:{show:true,color:'#000',fontFamily:FONT,fontSize:33,margin:23},
      name:'{a|f}{b|electron}',nameLocation:'middle',nameRotate:90,nameGap:129,nameTextStyle:{rich:rich()}}),
    ax({gridIndex:1,position:'left',min:-40,max:40,interval:10,axisTick:{show:true,inside:true,length:47,lineStyle:{color:'#000',width:3}},
      axisLabel:{show:true,color:'#000',fontFamily:FONT,fontSize:33,margin:47,formatter:plain},
      name:'x / mm',nameLocation:'middle',nameRotate:90,nameGap:114,nameTextStyle:TXT}),
    ax({gridIndex:1,position:'right',min:-40,max:40,interval:10,axisTick:{show:true,inside:true,length:47,lineStyle:{color:'#000',width:3}}}),
    ax({gridIndex:2,position:'left',min:0,max:180,interval:20,axisLine:{show:true,onZero:false,lineStyle:{color:'#000',width:5}},axisTick:{show:false}}),
    ax({gridIndex:2,position:'right',min:0,max:180,interval:20,axisLine:{show:true,onZero:false,lineStyle:{color:'#000',width:5}},
      axisTick:{show:true,inside:true,length:45,lineStyle:{color:'#000',width:3}},
      axisLabel:{show:true,color:'#000',fontFamily:FONT,fontSize:33,margin:28,formatter:plain},
      name:'{a|E}{b|z}{a| / eV}',nameLocation:'middle',nameRotate:90,nameGap:113,nameTextStyle:{rich:rich()}})
  ],
  visualMap:[
    {type:'continuous',show:false,seriesIndex:1,dimension:0,min:0,max:180,inRange:{color:ramp},outOfRange:{color:'#0000ff'}},
    {type:'continuous',show:false,seriesIndex:3,dimension:2,min:0,max:180,inRange:{color:ramp}}
  ],
  series:[
    {name:'proton',type:'line',xAxisIndex:0,yAxisIndex:0,data:protonCurve,symbol:'none',z:2,lineStyle:{color:'#bebebe',width:5},itemStyle:{color:'#bebebe'}},
    {name:'electron',type:'line',xAxisIndex:1,yAxisIndex:1,data:electronCurve,symbol:'none',z:3,lineStyle:{width:5},itemStyle:{color:'#000'}},
    {name:'proton hits',type:'scatter',xAxisIndex:2,yAxisIndex:2,data:chunk(protonHits,2),symbol:'path://M44,0h12v44h44v12h-44v44h-12v-44h-44v-12h44z',symbolSize:30,itemStyle:{color:'#bebebe'},silent:true,z:2,clip:false},
    {name:'electron hits',type:'scatter',xAxisIndex:2,yAxisIndex:2,data:chunk(electronCore.concat(electronDots),3),symbol:'circle',symbolSize:13.5,silent:true,z:3,clip:false},
    {name:'colour scale',type:'bar',xAxisIndex:4,yAxisIndex:4,data:[180],barWidth:'100%',silent:true,
      itemStyle:{color:new echarts.graphic.LinearGradient(0,1,0,0,colorbarStops.map(s=>({offset:s[0]/180,color:s[1]})))}}
  ]
});
</script></body></html>
